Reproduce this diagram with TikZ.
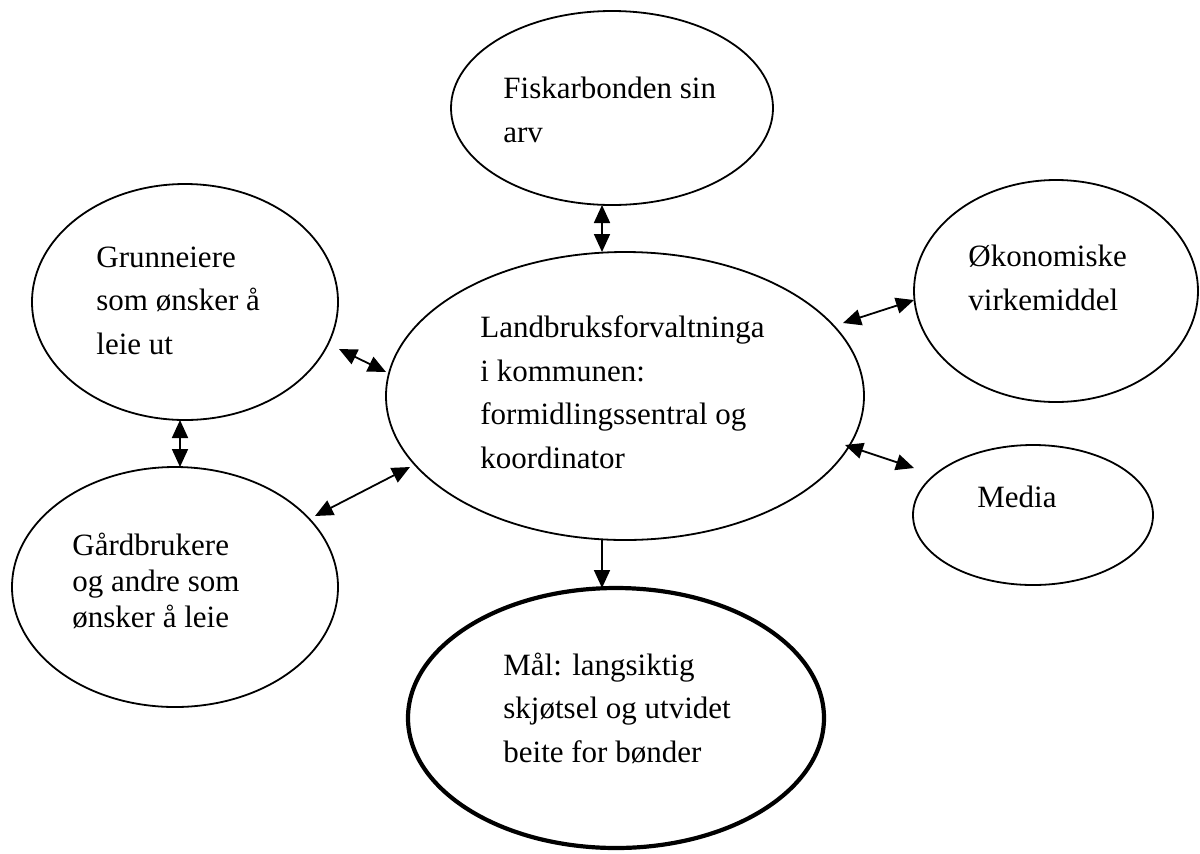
\documentclass[tikz,border=0pt]{standalone}
\usepackage{fontspec}
\setmainfont{Liberation Serif}
\usetikzlibrary{shapes.geometric,arrows.meta}
\begin{document}
\begin{tikzpicture}[x=0.5pt,y=-0.5pt,
  oval/.style={draw,ellipse,line width=0.9pt,inner sep=0pt},
  lbl/.style={anchor=base west,align=left,inner sep=0pt,font=\fontsize{15.5pt}{21.75pt}\selectfont},
  lbltight/.style={anchor=base west,align=left,inner sep=0pt,font=\fontsize{15.5pt}{18pt}\selectfont},
  dbl/.style={line width=0.9pt,{Triangle[length=9pt,width=8pt]}-{Triangle[length=9pt,width=8pt]}},
  sgl/.style={line width=0.9pt,-{Triangle[length=9pt,width=8pt]}}]
\useasboundingbox (0,0) rectangle (1200,853);

% ellipses
\node[oval,minimum width=161pt,minimum height=97pt] (fisk) at (612,108) {};
\node[oval,minimum width=153pt,minimum height=118pt] (grunn) at (185,302) {};
\node[oval,minimum width=239pt,minimum height=144pt] (land) at (625,396) {};
\node[oval,minimum width=142pt,minimum height=111pt] (okon) at (1056,291) {};
\node[oval,minimum width=120pt,minimum height=70pt] (media) at (1033,515) {};
\node[oval,minimum width=163pt,minimum height=120pt] (gard) at (175,587) {};
\node[oval,line width=2.1pt,minimum width=208pt,minimum height=130pt] (maal) at (616,718) {};

% texts (anchor = baseline of the last line)
\node[lbl] (tfisk) at (503,142) {Fiskarbonden sin\\arv};
\node[lbl] (tgrunn) at (96,354) {Grunneiere\\som ønsker å\\leie ut};
\node[lbl] (tland) at (480,468) {Landbruksforvaltninga\\i kommunen:\\formidlingssentral og\\koordinator};
\node[lbl] (tokon) at (968,310) {Økonomiske\\virkemiddel};
\node[lbl] (tmedia) at (977,507) {Media};
\node[lbltight] (tgard) at (72,627) {Gårdbrukere\\og andre som\\ønsker å leie};
\node[lbl] (tmaal) at (503,762) {Mål: langsiktig\\skjøtsel og utvidet\\beite for bønder};

% arrow end points
\coordinate (fl1) at (602,205); \coordinate (fl2) at (602,252);
\coordinate (gl1) at (339,349); \coordinate (gl2) at (386,372);
\coordinate (gb1) at (180,420); \coordinate (gb2) at (180,467);
\coordinate (bl1) at (315,516); \coordinate (bl2) at (410,467);
\coordinate (lo1) at (843,323); \coordinate (lo2) at (914,300);
\coordinate (lm1) at (845,445); \coordinate (lm2) at (914,468);
\coordinate (lg1) at (602,540); \coordinate (lg2) at (602,588);

\draw[dbl] (fl1) -- (fl2);
\draw[dbl] (gl1) -- (gl2);
\draw[dbl] (gb1) -- (gb2);
\draw[dbl] (bl1) -- (bl2);
\draw[dbl] (lo1) -- (lo2);
\draw[dbl] (lm1) -- (lm2);
\draw[sgl] (lg1) -- (lg2);
\end{tikzpicture}
\end{document}
